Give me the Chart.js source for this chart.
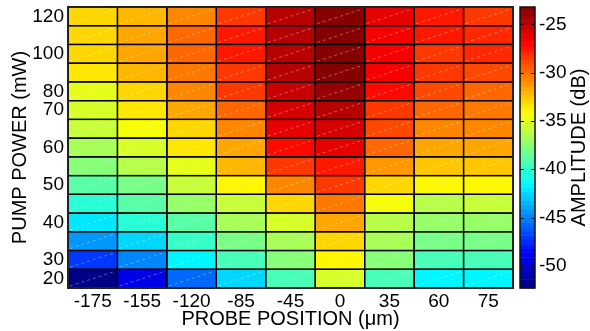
<!DOCTYPE html>
<html>
<head>
<meta charset="utf-8">
<script src="https://cdn.jsdelivr.net/npm/chart.js@4.4.1/dist/chart.umd.min.js"></script>
<style>
  html, body { margin: 0; padding: 0; background: #fff; }
  #wrap { width: 590px; height: 331px; position: relative; }
</style>
</head>
<body>
<div id="wrap"><canvas id="mapa"></canvas></div>
<script>
// probe positions (um) along x, pump powers (mW) along y, bottom row first
const posiciones = ['-175', '-155', '-120', '-85', '-45', '0', '35', '60', '75'];
const potencias = ['20', '30', '35', '40', '45', '50', '55', '60', '65', '70', '80', '90', '100', '110', '120'];
const potenciasVisibles = ['20', '30', '40', '50', '60', '70', '80', '100', '120'];
const ticksAmplitud = [-50, -45, -40, -35, -30, -25];

// amplitude in dB, one row per pump power (same order as potencias)
const amplitud = [
  [-52.2, -49.4, -45.5, -42.4, -39.4, -35.4, -39.4, -41.4, -41.4],
  [-46.9, -44.7, -41.8, -39.4, -37.7, -34.1, -37.7, -39.4, -39.4],
  [-44.4, -42.4, -40.0, -38.2, -36.8, -33.1, -36.8, -38.2, -38.2],
  [-41.9, -40.2, -38.8, -36.8, -35.2, -31.5, -36.0, -37.1, -37.1],
  [-40.2, -39.1, -37.1, -35.8, -33.2, -30.3, -34.5, -36.0, -35.9],
  [-39.1, -37.8, -35.8, -34.1, -30.8, -28.5, -33.1, -34.1, -34.1],
  [-37.7, -36.3, -34.7, -32.2, -28.5, -27.7, -31.1, -32.5, -32.5],
  [-36.5, -35.2, -33.6, -31.5, -27.1, -26.1, -30.0, -31.5, -31.4],
  [-35.7, -34.5, -32.8, -30.5, -26.2, -25.5, -29.1, -30.8, -30.8],
  [-35.1, -33.6, -31.8, -30.0, -25.8, -25.0, -28.5, -30.0, -30.3],
  [-34.7, -32.8, -30.5, -28.5, -25.2, -23.8, -27.1, -29.1, -30.0],
  [-33.5, -32.1, -30.3, -28.3, -25.0, -23.4, -26.8, -28.5, -28.8],
  [-33.0, -31.7, -30.0, -27.7, -24.9, -23.2, -26.8, -28.3, -28.2],
  [-33.0, -31.7, -30.0, -27.7, -25.0, -23.2, -26.4, -27.7, -28.2],
  [-33.1, -32.2, -30.5, -28.3, -25.0, -23.2, -26.2, -27.7, -28.3]
];

const vmin = -52.3, vmax = -23.2;
const NIVELES = 64;
const fuente = "'Liberation Sans', Arial, sans-serif";

// jet colormap, 64 levels
function jet(v) {
  let t = (v - vmin) / (vmax - vmin);
  t = Math.max(0, Math.min(1, t));
  const k = Math.min(NIVELES - 1, Math.floor(t * NIVELES));
  t = (k + 0.5) / NIVELES;
  const c = x => Math.round(255 * Math.max(0, Math.min(1, x)));
  const r = c(Math.min(4 * t - 1.5, -4 * t + 4.5));
  const g = c(Math.min(4 * t - 0.5, -4 * t + 3.5));
  const b = c(Math.min(4 * t + 0.5, -4 * t + 2.5));
  return `rgb(${r},${g},${b})`;
}

// axis boxes get their size here so the plot sits where it should
function sinRelleno(s) {
  s.paddingTop = 0; s.paddingBottom = 0;
  s.paddingLeft = 0; s.paddingRight = 0;
}

// cell outlines, faint diagonals, frames and the colour bar
const extras = {
  id: 'extras',
  afterDatasetsDraw(chart) {
    const ctx = chart.ctx;
    const area = chart.chartArea;
    ctx.save();
    chart.data.datasets.forEach((ds, i) => {
      chart.getDatasetMeta(i).data.forEach(bar => {
        const l = bar.x - bar.width / 2, r = bar.x + bar.width / 2;
        const t = Math.min(bar.y, bar.base), b = Math.max(bar.y, bar.base);
        ctx.strokeStyle = 'rgba(255,255,255,0.35)';
        ctx.lineWidth = 1;
        ctx.setLineDash([3, 3]);
        ctx.beginPath();
        ctx.moveTo(l + 2, b - 2);
        ctx.lineTo(r - 2, t + 2);
        ctx.stroke();
        ctx.setLineDash([]);
        ctx.strokeStyle = '#000';
        ctx.lineWidth = 1.3;
        ctx.strokeRect(l, t, r - l, b - t);
      });
    });
    ctx.strokeStyle = '#222';
    ctx.lineWidth = 2;
    ctx.strokeRect(area.left, area.top, area.right - area.left, area.bottom - area.top);

    // colour bar on the right axis
    const cb = chart.scales.cb;
    const x0 = cb.left + 7, x1 = cb.left + 22;
    const paso = (vmax - vmin) / NIVELES;
    for (let k = 0; k < NIVELES; k++) {
      const a = vmin + k * paso, z = a + paso;
      const ya = cb.getPixelForValue(a), yz = cb.getPixelForValue(z);
      ctx.fillStyle = jet(a + paso / 2);
      ctx.fillRect(x0, yz, x1 - x0, ya - yz + 0.5);
    }
    ctx.strokeStyle = '#111';
    ctx.lineWidth = 1.5;
    ctx.strokeRect(x0, cb.top, x1 - x0, cb.bottom - cb.top);
    ctx.lineWidth = 1.2;
    ticksAmplitud.forEach(v => {
      const y = Math.round(cb.getPixelForValue(v)) + 0.5;
      ctx.beginPath();
      ctx.moveTo(x0, y); ctx.lineTo(x0 + 4, y);
      ctx.moveTo(x1 - 4, y); ctx.lineTo(x1, y);
      ctx.stroke();
    });

    // colour bar title, reading bottom to top
    ctx.fillStyle = '#000';
    ctx.font = '20px ' + fuente;
    ctx.textAlign = 'center';
    ctx.textBaseline = 'middle';
    ctx.translate(579, (cb.top + cb.bottom) / 2);
    ctx.rotate(-Math.PI / 2);
    ctx.fillText('AMPLITUDE (dB)', 0, 0);
    ctx.restore();
  }
};

const ctx = document.getElementById('mapa').getContext('2d');
const chart = new Chart(ctx, {
  type: 'bar',
  data: {
    labels: posiciones,
    datasets: potencias.map((p, r) => ({
      label: p + ' mW',
      data: posiciones.map(() => 1),
      backgroundColor: amplitud[r].map(jet),
      borderWidth: 0,
      categoryPercentage: 1,
      barPercentage: 1,
      stack: 'mapa'
    }))
  },
  options: {
    responsive: true,
    maintainAspectRatio: false,
    animation: false,
    layout: { padding: { top: 7, left: 0, right: 0, bottom: 0 } },
    plugins: {
      legend: { display: false },
      tooltip: { enabled: false }
    },
    scales: {
      x: {
        stacked: true,
        grid: { display: false, drawTicks: false },
        border: { display: false },
        ticks: { color: '#000', font: { family: fuente, size: 19 }, padding: 2, maxRotation: 0 },
        title: { display: true, text: 'PROBE POSITION (μm)', color: '#000', font: { family: fuente, size: 20 }, padding: { top: -4, bottom: 0 } },
        afterFit: s => { sinRelleno(s); s.height = 43; }
      },
      y: {
        stacked: true,
        min: 0,
        max: potencias.length,
        grid: { display: false, drawTicks: false },
        border: { display: false },
        afterBuildTicks: s => { s.ticks = potencias.map((p, i) => ({ value: i + 0.5 })); },
        ticks: {
          autoSkip: false,
          color: '#000',
          font: { family: fuente, size: 19 },
          padding: 4,
          callback: (v, i) => potenciasVisibles.includes(potencias[i]) ? potencias[i] : ''
        },
        title: { display: true, text: 'PUMP POWER (mW)', color: '#000', font: { family: fuente, size: 20 }, padding: { top: 8, bottom: 0 } },
        afterFit: s => { sinRelleno(s); s.width = 68; }
      },
      cb: {
        axis: 'y',
        type: 'linear',
        position: 'right',
        min: vmin,
        max: vmax,
        grid: { display: false, drawTicks: true, tickLength: 24 },
        border: { display: false },
        afterBuildTicks: s => { s.ticks = ticksAmplitud.map(v => ({ value: v })); },
        ticks: { color: '#000', font: { family: fuente, size: 19 }, padding: 2 },
        afterFit: s => { sinRelleno(s); s.width = 77; }
      }
    }
  },
  plugins: [extras]
});
</script>
</body>
</html>
